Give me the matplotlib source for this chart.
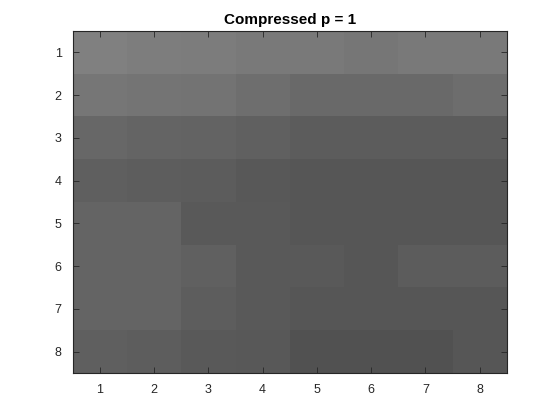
import matplotlib
matplotlib.use("Agg")
import matplotlib.pyplot as plt
import numpy as np

plt.rcParams['font.family'] = ['Liberation Sans', 'DejaVu Sans']

row_labels = [1, 2, 3, 4, 5, 6, 7, 8]
col_labels = [1, 2, 3, 4, 5, 6, 7, 8]
values = [
    [128, 125, 124, 121, 121, 118, 121, 121],
    [118, 116, 115, 110, 106, 106, 106, 109],
    [103, 100,  99,  96,  92,  92,  92,  92],
    [ 95,  93,  92,  88,  86,  86,  86,  86],
    [100, 100,  90,  90,  86,  86,  86,  86],
    [100, 100,  96,  90,  90,  86,  92,  92],
    [100, 100,  93,  90,  86,  86,  86,  86],
    [ 95,  93,  90,  88,  82,  82,  82,  86],
]

fig = plt.figure(figsize=(5.6, 4.2), dpi=100)
ax = fig.add_axes([0.13, 0.112, 0.775, 0.814])
ax.imshow(np.array(values), cmap='gray', vmin=0, vmax=255, aspect='auto',
          interpolation='nearest',
          extent=[0.5, 8.5, 8.5, 0.5])
ax.set_xticks(col_labels)
ax.set_yticks(row_labels)
ax.set_xticklabels([str(c) for c in col_labels])
ax.set_yticklabels([str(r) for r in row_labels])
ax.tick_params(direction='in', top=True, right=True, length=4, width=0.6,
               labelsize=9, colors='#262626', pad=8)
for s in ax.spines.values():
    s.set_linewidth(0.8)
    s.set_color('#262626')
ax.set_title('Compressed p = 1', fontsize=11, fontweight='bold', pad=5)
fig.savefig('out.png', dpi=100)
